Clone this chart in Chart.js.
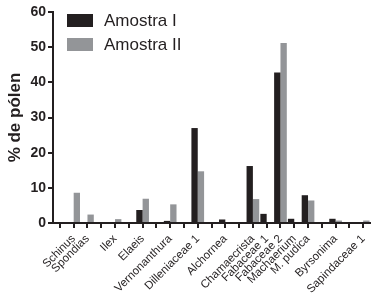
<!DOCTYPE html>
<html lang="pt">
<head>
    <meta charset="UTF-8">
    <title>% de pólen por táxon</title>
    <script src="https://cdn.jsdelivr.net/npm/chart.js"></script>
    <style>
        html, body { margin: 0; padding: 0; background: #fff; }
        #wrap { width: 377px; height: 299px; }
    </style>
</head>
<body>
    <div id="wrap"><canvas id="chart" width="377" height="299"></canvas></div>

    <script>
        // categorias (as vazias são espaços entre grupos, como no gráfico original)
        const taxa = ["", "Schinus", "Spondias", "", "Ilex", "", "Elaeis", "", "Vernonanthura", "",
            "Dilleniaceae 1", "", "Alchornea", "", "Chamaecrista", "Fabaceae 1", "Fabaceae 2",
            "Machaerium", "M. pudica", "", "Byrsonima", "", "Sapindaceae 1"];
        const amostraI = [0, 0, 0, 0, 0, 0, 3.7, 0, 0.6, 0,
            27.0, 0, 1.0, 0, 16.2, 2.6, 42.8,
            1.2, 7.9, 0, 1.2, 0, 0];
        const amostraII = [0, 8.6, 2.4, 0, 1.1, 0, 6.9, 0, 5.3, 0,
            14.7, 0, 0, 0, 6.8, 0, 51.2,
            0, 6.4, 0, 0.7, 0, 0.7];
        const yTicks = [0, 10, 20, 30, 40, 50, 60];

        const ink = "#231f20";
        const font = "'Liberation Sans', Arial, sans-serif";

        // legenda desenhada dentro da área do gráfico
        const insideLegend = {
            id: "insideLegend",
            afterDraw(chart) {
                const ctx = chart.ctx;
                ctx.save();
                ctx.font = "17px " + font;
                ctx.textBaseline = "middle";
                chart.data.datasets.forEach((ds, i) => {
                    const y = 14 + i * 24;
                    ctx.fillStyle = ds.backgroundColor;
                    ctx.fillRect(67, y, 26, 13);
                    ctx.fillStyle = ink;
                    ctx.fillText(ds.label, 104, y + 7);
                });
                ctx.restore();
            }
        };

        new Chart(document.getElementById("chart"), {
            type: "bar",
            data: {
                labels: taxa,
                datasets: [
                    { label: "Amostra I", data: amostraI, backgroundColor: "#231f20" },
                    { label: "Amostra II", data: amostraII, backgroundColor: "#939598" }
                ]
            },
            options: {
                responsive: false,
                animation: false,
                layout: { padding: { top: 12, right: 3, left: 0, bottom: 0 } },
                datasets: { bar: { barPercentage: 1, categoryPercentage: 0.92 } },
                plugins: { legend: { display: false }, tooltip: { enabled: false } },
                scales: {
                    x: {
                        afterFit: (s) => { s.height = 76; },
                        grid: { offset: false, drawOnChartArea: false, drawTicks: true, tickLength: 5, color: ink, lineWidth: 2 },
                        border: { display: true, color: ink, width: 2 },
                        ticks: {
                            autoSkip: false, maxRotation: 45, minRotation: 45, padding: 4,
                            color: ink, font: { family: font, size: 11.5 }
                        }
                    },
                    y: {
                        min: 0, max: 60,
                        afterFit: (s) => { s.width = 53; },
                        afterBuildTicks: (s) => { s.ticks = yTicks.map(v => ({ value: v })); },
                        grid: { drawOnChartArea: false, drawTicks: true, tickLength: 5, color: ink, lineWidth: 2 },
                        border: { display: true, color: ink, width: 2 },
                        ticks: { padding: 2, color: ink, font: { family: font, size: 14, weight: "bold" } },
                        title: {
                            display: true, text: "% de pólen", color: ink,
                            padding: { top: 5, bottom: 0 },
                            font: { family: font, size: 17, weight: "bold" }
                        }
                    }
                }
            },
            plugins: [insideLegend]
        });
    </script>
</body>
</html>
